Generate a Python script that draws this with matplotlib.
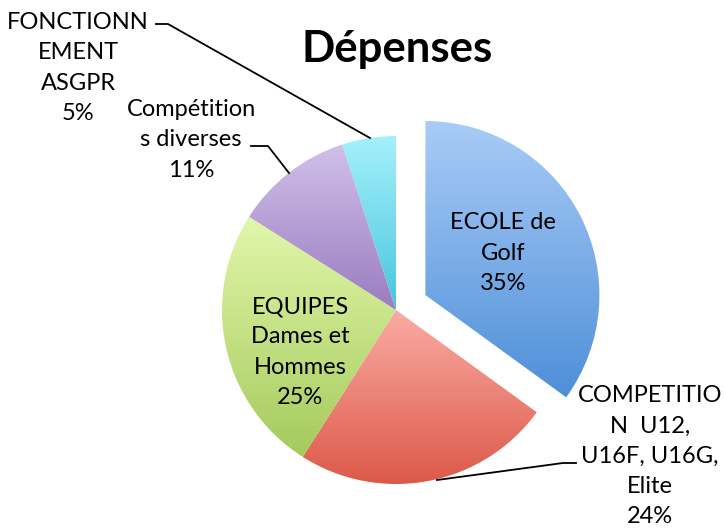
import matplotlib
matplotlib.use("Agg")
import matplotlib.pyplot as plt
import numpy as np
from matplotlib.colors import LinearSegmentedColormap

title = "Dépenses"
categories = ["ECOLE de\nGolf",
              "COMPETITIO\nN  U12,\nU16F, U16G,\nElite",
              "EQUIPES\nDames et\nHommes",
              "Compétition\ns diverses",
              "FONCTIONN\nEMENT\nASGPR"]
values = [35, 24, 25, 11, 5]
explode_px = [33, 0, 0, 0, 0]
top_colors = ["#A9CCF7", "#FAACA4", "#E2F7AB", "#D0C0EA", "#A5F1FB"]
bottom_colors = ["#4E8FD8", "#DC5747", "#A5CA5C", "#9A7CC0", "#47C5DE"]

W, H = 726, 531
FONT = ["Lato", "DejaVu Sans"]

fig = plt.figure(figsize=(W / 100, H / 100), dpi=100)
ax = fig.add_axes([0, 0, 1, 1])

cx, cy, R = 396, H - 310, 174
wedges, _ = ax.pie(values, explode=explode_px, center=(cx, cy), radius=R,
                   startangle=90, counterclock=False,
                   wedgeprops=dict(linewidth=0))

grad = np.linspace(0, 1, 256).reshape(-1, 1)
for w, c0, c1 in zip(wedges, top_colors, bottom_colors):
    verts = w.get_path().vertices
    x0, x1 = verts[:, 0].min(), verts[:, 0].max()
    y0, y1 = verts[:, 1].min(), verts[:, 1].max()
    cmap = LinearSegmentedColormap.from_list("g", [c1, c0])
    im = ax.imshow(grad, cmap=cmap, extent=(x0, x1, y0, y1), origin="lower",
                   aspect="auto", zorder=1, interpolation="bilinear")
    im.set_clip_path(w)
    w.set_facecolor("none")

# label positions (pixel coords, top-left origin)
label_pos = [(503, 253), (650, 456), (300, 352), (191, 140), (78, 68)]
for lab, v, (lx, ly) in zip(categories, values, label_pos):
    ax.text(lx, H - ly, f"{lab}\n{v}%", ha="center", va="center",
            fontsize=17, family=FONT, linespacing=1.53, color="black", zorder=3)

# leader lines
leaders = [
    [(156, 24), (168, 24), (370, 138)],
    [(251, 146), (268, 146), (289, 173)],
    [(437, 480), (563, 463), (576, 463)],
]
for pts in leaders:
    xs = [p[0] for p in pts]
    ys = [H - p[1] for p in pts]
    ax.plot(xs, ys, color="black", lw=1.3, zorder=3)

ax.text(397, H - 62, title, ha="center", va="baseline", fontsize=31.5,
        fontweight="bold", family=FONT, color="black")

ax.set_xlim(0, W)
ax.set_ylim(0, H)
ax.set_aspect("auto")
ax.axis("off")
fig.savefig("out.png", dpi=100, facecolor="white")
